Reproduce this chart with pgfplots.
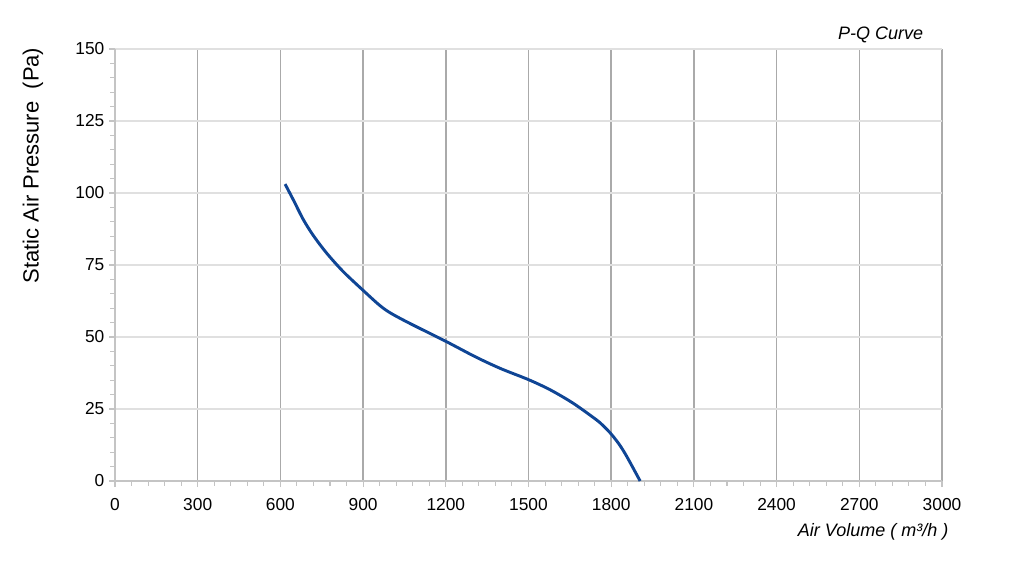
\documentclass[border=0pt]{standalone}
\usepackage{pgfplots}
\pgfplotsset{compat=1.18}
\usepackage{fontspec}
\setmainfont{Liberation Sans}
\definecolor{curveblue}{HTML}{0F4595}
\definecolor{vgrid}{HTML}{AAAAAA}
\definecolor{hgrid}{HTML}{E0E0E0}
\definecolor{axgray}{HTML}{C4C4C4}

\pgfplotstableread{
q p
617 103.1
647 97.6
683 90.8
719 85.3
768 79.1
828 72.7
900 66.2
960 61.0
1000 58.3
1070 54.7
1200 48.5
1310 43.0
1400 39.0
1500 35.2
1580 31.6
1662 27.0
1747 21.2
1774 18.9
1801 16.2
1830 12.6
1856 8.6
1905 0.0
}\pqdata

\begin{document}
\begin{tikzpicture}
\useasboundingbox (0,0) rectangle (768pt,-423.75pt);
\begin{axis}[
  at={(86.25pt,-360.75pt)},
  anchor=south west,
  scale only axis,
  width=620.25pt,
  height=324pt,
  xmin=0, xmax=3000,
  ymin=0, ymax=150,
  xtick={0,300,...,3000},
  ytick={0,25,...,150},
  minor x tick num=4,
  minor y tick num=4,
  axis x line*=bottom,
  axis y line*=left,
  axis line style={axgray, line width=1pt, -},
  tick align=outside,
  major tick length=4.5pt,
  minor tick length=3.5pt,
  tick style={axgray, line width=0.8pt},
  xmajorgrids, ymajorgrids,
  x grid style={vgrid, line width=1.1pt},
  y grid style={hgrid, line width=1.3pt},
  /pgf/number format/assume math mode=true,
  /pgf/number format/1000 sep={},
  tick label style={font=\fontsize{13}{15}\selectfont, black},
  xticklabel style={yshift=-5pt},
  xlabel={\itshape Air Volume ( m³/h )},
  xlabel style={at={(axis description cs:1.0133,-0.1180)}, anchor=east, font=\fontsize{13.5}{16}\selectfont},
  ylabel={Static Air Pressure\ \ (Pa)},
  ylabel style={at={(axis description cs:-0.0992,0.730)}, anchor=center, font=\fontsize{16.5}{19}\selectfont},
  title={\itshape P-Q Curve},
  title style={at={(axis description cs:0.983,1.0139)}, anchor=east, font=\fontsize{13.5}{16}\selectfont},
]
\addplot[curveblue, line width=2.2pt, smooth, no markers] table[x=q, y=p] {\pqdata};
\end{axis}
\end{tikzpicture}
\end{document}
